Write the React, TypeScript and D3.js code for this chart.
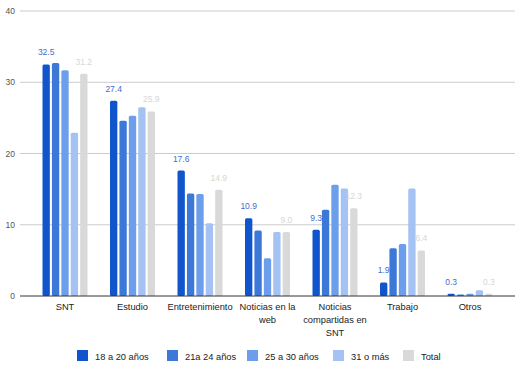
import React from "react";
import * as d3 from "d3";

const categories = [
  ["SNT"],
  ["Estudio"],
  ["Entretenimiento"],
  ["Noticias en la", "web"],
  ["Noticias", "compartidas en", "SNT"],
  ["Trabajo"],
  ["Otros"],
];
const seriesNames = ["18 a 20 años", "21a 24 años", "25 a 30 años", "31 o más", "Total"];
const s18a20 = [32.5, 27.4, 17.6, 10.9, 9.3, 1.9, 0.3];
const s21a24 = [32.7, 24.6, 14.4, 9.2, 12.1, 6.7, 0.2];
const s25a30 = [31.7, 25.3, 14.3, 5.3, 15.6, 7.3, 0.3];
const s31mas = [22.9, 26.5, 10.2, 9.0, 15.1, 15.1, 0.8];
const sTotal = [31.2, 25.9, 14.9, 9.0, 12.3, 6.4, 0.3];
const yTicks = [0, 10, 20, 30, 40];
const colors = ["#1155cc", "#3c78d8", "#6d9eeb", "#a4c2f4", "#d9d9d9"];
const labelColors = ["#3d6fcf", null, null, null, "#d6d6d6"];

const FONT = "Liberation Sans, Arial, sans-serif";

export default function App() {
  const W = 527, H = 377;
  const series = [s18a20, s21a24, s25a30, s31mas, sTotal];
  const y = d3.scaleLinear().domain([0, 40]).range([296, 11]);
  const x0 = d3.scaleBand<number>().domain(d3.range(categories.length)).range([31.25, 503.75]).paddingInner(0).paddingOuter(0);
  const groupW = 45;
  const x1 = d3.scaleBand<number>().domain(d3.range(series.length)).range([0, groupW]).paddingInner(0.22);
  const legendX = [77, 167, 247, 333, 403];
  return (
    <svg width={W} height={H} style={{ position: "absolute", left: 0, top: 0, background: "#fff" }} fontFamily={FONT}>
      {yTicks.map((t) => (
        <g key={t}>
          {t !== 0 && <line x1={20} x2={515} y1={y(t)} y2={y(t)} stroke="#cccccc" strokeWidth={1} />}
          <text x={15} y={y(t) + 3} textAnchor="end" fontSize={8.5} fill="#555">{t}</text>
        </g>
      ))}
      {categories.map((c, i) => {
        const gx = x0(i)! + (x0.bandwidth() - groupW) / 2;
        return (
          <g key={i}>
            {series.map((s, j) => {
              const bx = gx + x1(j)!;
              const top = y(s[i]);
              return (
                <g key={j}>
                  <rect x={bx} y={top} width={x1.bandwidth()} height={Math.max(0, y(0) - top)} fill={colors[j]} rx={1.5} />
                  {labelColors[j] && (
                    <text x={bx + x1.bandwidth() / 2} y={top - 9} textAnchor="middle" fontSize={8.5} fill={labelColors[j]!}>
                      {s[i].toFixed(1)}
                    </text>
                  )}
                </g>
              );
            })}
            {c.map((line, k) => (
              <text key={k} x={x0(i)! + x0.bandwidth() / 2} y={310 + k * 13} textAnchor="middle" fontSize={9.3} fill="#222">
                {line}
              </text>
            ))}
          </g>
        );
      })}
      <line x1={20} x2={515} y1={y(0)} y2={y(0)} stroke="#333" strokeWidth={1} />
      {seriesNames.map((n, j) => (
        <g key={n}>
          <rect x={legendX[j]} y={350} width={11} height={11} fill={colors[j]} />
          <text x={legendX[j] + 18} y={359.5} fontSize={9.3} fill="#222">{n}</text>
        </g>
      ))}
    </svg>
  );
}
